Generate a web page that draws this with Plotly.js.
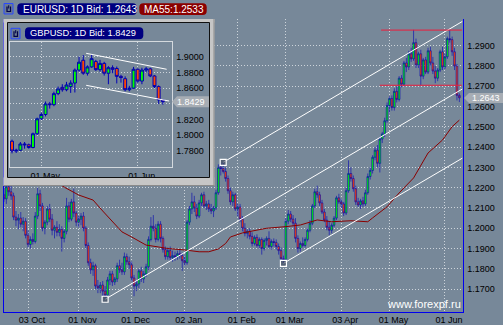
<!DOCTYPE html>
<html><head><meta charset="utf-8">
<script src="https://cdn.plot.ly/plotly-3.0.1.min.js"></script>
<style>html,body{margin:0;padding:0;background:#778899;overflow:hidden}</style>
</head><body><div id="chart" style="width:503px;height:325px"></div>
<script>
// ---------------- DATA ----------------
// EURUSD daily bars, index 0 = first visible bar
const eurOpen = [1.2165,1.2145,1.2205,1.2180,1.2160,1.2055,1.2040,1.2050,1.2020,1.2035,
1.1965,1.1920,1.1945,1.1935,1.2060,1.2170,1.2110,1.2000,1.2030,1.2095,
1.2045,1.1990,1.2005,1.1980,1.1995,1.1950,1.1985,1.2110,1.2045,1.2130,
1.2075,1.2030,1.2045,1.2060,1.2000,1.1915,1.1830,1.1795,1.1815,1.1715,
1.1705,1.1720,1.1690,1.1670,1.1745,1.1775,1.1735,1.1750,1.1815,1.1795,
1.1785,1.1860,1.1835,1.1820,1.1755,1.1715,1.1725,1.1790,1.1750,1.1775,
1.1810,1.1945,1.2010,1.2000,1.1945,1.2020,1.1950,1.1895,1.1860,1.1890,
1.1855,1.1865,1.1860,1.1875,1.1865,1.1840,1.1830,1.2030,1.2095,1.2130,
1.2100,1.2060,1.2125,1.2165,1.2110,1.2120,1.2095,1.2085,1.2100,1.2175,
1.2300,1.2295,1.2280,1.2245,1.2185,1.2130,1.2165,1.2095,1.2105,1.2045,
1.2000,1.1975,1.1985,1.1960,1.1925,1.1955,1.1915,1.1945,1.1900,1.1940,
1.1950,1.1910,1.1935,1.1930,1.1910,1.1890,1.1850,1.1845,1.2035,1.2070,
1.2045,1.2025,1.1950,1.1900,1.1925,1.1915,1.1945,1.1990,1.2025,1.2110,
1.2180,1.2165,1.2125,1.2080,1.2040,1.2005,1.1990,1.2015,1.2050,1.2150,
1.2130,1.2120,1.2075,1.2185,1.2270,1.2245,1.2195,1.2130,1.2115,1.2135,
1.2120,1.2175,1.2255,1.2285,1.2350,1.2385,1.2320,1.2440,1.2465,1.2530,
1.2605,1.2640,1.2595,1.2675,1.2635,1.2740,1.2710,1.2815,1.2795,1.2860,
1.2835,1.2915,1.2805,1.2860,1.2750,1.2830,1.2770,1.2875,1.2815,1.2775,
1.2740,1.2780,1.2870,1.2795,1.2845,1.2935,1.2930,1.2870,1.2800,1.2655];
const eurHigh = [1.2215,1.2240,1.2245,1.2235,1.2175,1.2085,1.2070,1.2080,1.2055,1.2050,
1.1990,1.1960,1.1975,1.2080,1.2200,1.2190,1.2125,1.2040,1.2110,1.2120,
1.2070,1.2015,1.2035,1.2020,1.2010,1.1995,1.2150,1.2130,1.2145,1.2195,
1.2085,1.2060,1.2075,1.2080,1.2010,1.1930,1.1850,1.1835,1.1825,1.1745,
1.1735,1.1740,1.1715,1.1760,1.1790,1.1790,1.1760,1.1830,1.1845,1.1830,
1.1880,1.1875,1.1860,1.1835,1.1770,1.1740,1.1800,1.1810,1.1790,1.1825,
1.1960,1.2055,1.2065,1.2020,1.2035,1.2035,1.1960,1.1910,1.1905,1.1910,
1.1890,1.1885,1.1890,1.1895,1.1880,1.1860,1.2040,1.2110,1.2175,1.2160,
1.2120,1.2140,1.2175,1.2180,1.2135,1.2140,1.2120,1.2110,1.2190,1.2315,
1.2325,1.2325,1.2300,1.2260,1.2200,1.2180,1.2175,1.2120,1.2120,1.2060,
1.2025,1.1995,1.2000,1.1980,1.1965,1.1970,1.1955,1.1955,1.1950,1.1960,
1.1985,1.1945,1.1950,1.1945,1.1925,1.1905,1.1865,1.2050,1.2090,1.2085,
1.2065,1.2050,1.1965,1.1935,1.1955,1.1955,1.2000,1.2040,1.2120,1.2195,
1.2210,1.2180,1.2140,1.2095,1.2060,1.2035,1.2025,1.2060,1.2160,1.2170,
1.2145,1.2130,1.2200,1.2335,1.2300,1.2260,1.2210,1.2150,1.2145,1.2155,
1.2190,1.2270,1.2300,1.2360,1.2400,1.2410,1.2450,1.2475,1.2545,1.2620,
1.2650,1.2655,1.2690,1.2700,1.2750,1.2755,1.2825,1.2840,1.2875,1.2890,
1.2978,1.2935,1.2870,1.2880,1.2840,1.2845,1.2890,1.2895,1.2845,1.2800,
1.2790,1.2880,1.2895,1.2860,1.2945,1.2978,1.2945,1.2890,1.2810,1.2665];
const eurLow = [1.2130,1.2120,1.2160,1.2140,1.2040,1.2010,1.1995,1.2005,1.1985,1.1950,
1.1905,1.1900,1.1920,1.1925,1.2045,1.2085,1.1985,1.1970,1.2015,1.2030,
1.1965,1.1950,1.1960,1.1960,1.1885,1.1930,1.1970,1.2030,1.2035,1.2055,
1.2010,1.2005,1.2015,1.1985,1.1900,1.1815,1.1775,1.1765,1.1700,1.1680,
1.1680,1.1665,1.1650,1.1660,1.1720,1.1715,1.1720,1.1735,1.1780,1.1770,
1.1770,1.1820,1.1800,1.1740,1.1665,1.1690,1.1705,1.1735,1.1730,1.1760,
1.1795,1.1935,1.1985,1.1930,1.1935,1.1930,1.1880,1.1845,1.1845,1.1840,
1.1835,1.1840,1.1845,1.1850,1.1790,1.1815,1.1820,1.2015,1.2070,1.2080,
1.2045,1.2050,1.2110,1.2100,1.2090,1.2080,1.2070,1.2055,1.2090,1.2165,
1.2260,1.2270,1.2230,1.2170,1.2115,1.2110,1.2085,1.2060,1.2030,1.1985,
1.1960,1.1950,1.1945,1.1910,1.1915,1.1905,1.1900,1.1870,1.1890,1.1915,
1.1900,1.1895,1.1910,1.1895,1.1870,1.1835,1.1827,1.1840,1.2020,1.2030,
1.2010,1.1930,1.1880,1.1885,1.1905,1.1905,1.1935,1.1980,1.2015,1.2100,
1.2150,1.2110,1.2070,1.2030,1.1990,1.1965,1.1975,1.2005,1.2040,1.2120,
1.2100,1.2060,1.2065,1.2175,1.2230,1.2180,1.2115,1.2105,1.2095,1.2105,
1.2110,1.2165,1.2240,1.2270,1.2335,1.2300,1.2275,1.2420,1.2450,1.2520,
1.2570,1.2580,1.2580,1.2620,1.2625,1.2695,1.2700,1.2770,1.2780,1.2820,
1.2825,1.2790,1.2790,1.2705,1.2735,1.2760,1.2760,1.2800,1.2760,1.2715,
1.2725,1.2770,1.2780,1.2785,1.2835,1.2915,1.2850,1.2780,1.2630,1.2622];
const eurClose = [1.2145,1.2205,1.2180,1.2160,1.2055,1.2040,1.2050,1.2020,1.2035,1.1965,
1.1920,1.1945,1.1935,1.2060,1.2170,1.2110,1.2000,1.2030,1.2095,1.2045,
1.1990,1.2005,1.1980,1.1995,1.1950,1.1985,1.2110,1.2045,1.2130,1.2075,
1.2030,1.2045,1.2060,1.2000,1.1915,1.1830,1.1795,1.1815,1.1715,1.1705,
1.1720,1.1690,1.1670,1.1745,1.1775,1.1735,1.1750,1.1815,1.1795,1.1785,
1.1860,1.1835,1.1820,1.1755,1.1715,1.1725,1.1790,1.1750,1.1775,1.1810,
1.1945,1.2010,1.2000,1.1945,1.2020,1.1950,1.1895,1.1860,1.1890,1.1855,
1.1865,1.1860,1.1875,1.1865,1.1840,1.1830,1.2030,1.2095,1.2130,1.2100,
1.2060,1.2125,1.2165,1.2110,1.2120,1.2095,1.2085,1.2100,1.2175,1.2300,
1.2295,1.2280,1.2245,1.2185,1.2130,1.2165,1.2095,1.2105,1.2045,1.2000,
1.1975,1.1985,1.1960,1.1925,1.1955,1.1915,1.1945,1.1900,1.1940,1.1950,
1.1910,1.1935,1.1930,1.1910,1.1890,1.1850,1.1845,1.2035,1.2070,1.2045,
1.2025,1.1950,1.1900,1.1925,1.1915,1.1945,1.1990,1.2025,1.2110,1.2180,
1.2165,1.2125,1.2080,1.2040,1.2005,1.1990,1.2015,1.2050,1.2150,1.2130,
1.2120,1.2075,1.2185,1.2270,1.2245,1.2195,1.2130,1.2115,1.2135,1.2120,
1.2175,1.2255,1.2285,1.2350,1.2385,1.2320,1.2440,1.2465,1.2530,1.2605,
1.2640,1.2595,1.2675,1.2635,1.2740,1.2710,1.2815,1.2795,1.2860,1.2835,
1.2915,1.2805,1.2860,1.2750,1.2830,1.2770,1.2875,1.2815,1.2775,1.2740,
1.2780,1.2870,1.2795,1.2845,1.2935,1.2930,1.2870,1.2800,1.2655,1.2643];

// MA55 line (bar index, value)
const maIdx = [23,25,31,37,41,45,49,53,56,59,64,68,75,81,85,89,92,94,99,102,109,117,123,130,136,144,151,153,159,164,170,176,182,186,189];
const maVal = [1.2218,1.2203,1.2164,1.2139,1.2085,1.2031,1.1982,1.1957,1.1937,1.1917,1.1908,1.1900,1.1893,1.1884,1.1884,1.1898,1.1925,1.1957,1.1977,1.1983,1.2000,1.2008,1.2016,1.2041,1.2032,1.2037,1.2032,1.2051,1.2106,1.2174,1.2248,1.2371,1.2435,1.2501,1.2533];

// trend channel lines (start bar/price -> end bar/price)
const trendX0 = [91, 42, 116];
const trendY0 = [1.2325, 1.1650, 1.1827];
const trendX1 = [190.3, 190.3, 190.3];
const trendY1 = [1.3020, 1.2687, 1.2346];
// horizontal red levels
const levelPrice = [1.2977, 1.2705];
const levelX0 = [156.5, 156];
const levelX1 = [190, 190];

// axis labels
const dateIdx = [10,31,53,75,97,117,140,160,183];
const dateLbl = ['03 Oct','01 Nov','01 Dec','02 Jan','01 Feb','01 Mar','03 Apr','01 May','01 Jun'];
const priceTicks = [1.17,1.18,1.19,1.20,1.21,1.22,1.23,1.24,1.25,1.26,1.27,1.28,1.29];

// GBPUSD inset
const gbpOpen = [1.7925,1.7800,1.7810,1.7890,1.7880,1.7845,1.8020,1.8210,1.8265,1.8400,
1.8390,1.8530,1.8610,1.8580,1.8620,1.8665,1.8830,1.8955,1.8790,1.8870,
1.8940,1.8835,1.8915,1.8790,1.8860,1.8850,1.8750,1.8720,1.8580,1.8600,
1.8840,1.8690,1.8830,1.8845,1.8755,1.8620,1.8450];
const gbpHigh = [1.7945,1.7830,1.7915,1.7915,1.7895,1.8035,1.8225,1.8290,1.8430,1.8425,
1.8555,1.8620,1.8650,1.8680,1.8700,1.8850,1.9000,1.9020,1.8890,1.9030,
1.8960,1.8960,1.8935,1.8880,1.8890,1.8875,1.8770,1.8750,1.8630,1.8870,
1.8850,1.8860,1.8870,1.8860,1.8765,1.8635,1.8460];
const gbpLow = [1.7770,1.7775,1.7800,1.7830,1.7830,1.7835,1.8005,1.8195,1.8240,1.8340,
1.8370,1.8510,1.8555,1.8560,1.8540,1.8545,1.8810,1.8770,1.8760,1.8860,
1.8820,1.8810,1.8760,1.8650,1.8790,1.8660,1.8670,1.8560,1.8560,1.8590,
1.8670,1.8650,1.8800,1.8740,1.8600,1.8400,1.8390];
const gbpClose = [1.7800,1.7810,1.7890,1.7880,1.7845,1.8020,1.8210,1.8265,1.8400,1.8390,
1.8530,1.8590,1.8580,1.8640,1.8665,1.8830,1.8930,1.8790,1.8870,1.8975,
1.8835,1.8915,1.8790,1.8860,1.8840,1.8750,1.8735,1.8580,1.8600,1.8840,
1.8690,1.8830,1.8845,1.8755,1.8620,1.8450,1.8429];
const gbpTrendX0 = [17.7, 17.7];
const gbpTrendY0 = [1.9043, 1.8636];
const gbpTrendX1 = [36.9, 37.5];
const gbpTrendY1 = [1.8840, 1.8436];
const gbpDateIdx = [7, 30];
const gbpDateLbl = ['01 May', '01 Jun'];
const gbpTicks = [1.78,1.80,1.82,1.84,1.86,1.88,1.90];
const gbpHiddenTick = 1.84; // label covered by the last-price tag

const mainTitle = 'EURUSD: 1D Bid: 1.2643';
const maTitle = 'MA55:1.2533';
const insetTitle = 'GBPUSD: 1D Bid: 1.8429';
const mainLast = '1.2643';
const insetLast = '1.8429';
const watermark = 'www.forexpf.ru';

// ---------------- STYLE / LAYOUT ----------------
const W = 503, H = 325;
const px = x => x / W, py = y => 1 - y / H;
const slate = '#778899';
const gridCol = '#cdd4db';
const FF = '"Liberation Sans", Arial, sans-serif';
const candleLine = '#0000b4';
const upFill = '#00ff00', dnFill = '#ff4500';

function idx(n){ const a=[]; for(let i=0;i<n;i++) a.push(i); return a; }

const traces = [];
traces.push({
  type:'candlestick', x: idx(eurClose.length), open:eurOpen, high:eurHigh, low:eurLow, close:eurClose,
  xaxis:'x', yaxis:'y', hoverinfo:'skip', showlegend:false, whiskerwidth:0,
  increasing:{line:{color:candleLine,width:0.6}, fillcolor:upFill},
  decreasing:{line:{color:candleLine,width:0.6}, fillcolor:dnFill}
});
traces.push({type:'scatter', mode:'lines', x:maIdx, y:maVal, xaxis:'x', yaxis:'y',
  line:{color:'#8b0000', width:1}, hoverinfo:'skip', showlegend:false});
for (let k=0;k<trendX0.length;k++){
  traces.push({type:'scatter', mode:'lines', x:[trendX0[k],trendX1[k]], y:[trendY0[k],trendY1[k]],
    xaxis:'x', yaxis:'y', line:{color:'#ffffff', width:1}, hoverinfo:'skip', showlegend:false});
}
for (let k=0;k<levelPrice.length;k++){
  traces.push({type:'scatter', mode:'lines', x:[levelX0[k],levelX1[k]], y:[levelPrice[k],levelPrice[k]],
    xaxis:'x', yaxis:'y', line:{color:'#ec1c3c', width:1}, hoverinfo:'skip', showlegend:false});
}
traces.push({type:'scatter', mode:'markers', x:trendX0, y:trendY0, xaxis:'x', yaxis:'y',
  marker:{symbol:'square', size:6, color:'rgba(60,70,90,0.6)', line:{color:'#ffffff', width:1.2}},
  hoverinfo:'skip', showlegend:false});

// inset background window (empty subplot so its background covers the main chart)
traces.push({type:'scatter', mode:'markers', x:[0.5], y:[0.5], xaxis:'x2', yaxis:'y2',
  marker:{opacity:0}, hoverinfo:'skip', showlegend:false});

// inset candles
traces.push({
  type:'candlestick', x: idx(gbpClose.length), open:gbpOpen, high:gbpHigh, low:gbpLow, close:gbpClose,
  xaxis:'x3', yaxis:'y3', hoverinfo:'skip', showlegend:false, whiskerwidth:0,
  increasing:{line:{color:candleLine,width:1}, fillcolor:upFill},
  decreasing:{line:{color:candleLine,width:1}, fillcolor:dnFill}
});
for (let k=0;k<gbpTrendX0.length;k++){
  traces.push({type:'scatter', mode:'lines', x:[gbpTrendX0[k],gbpTrendX1[k]], y:[gbpTrendY0[k],gbpTrendY1[k]],
    xaxis:'x3', yaxis:'y3', line:{color:'#ffffff', width:1}, hoverinfo:'skip', showlegend:false});
}

const tickFont = {family:FF, size:9, color:'#000000'};

function P(x,y){ return px(x).toFixed(5)+','+py(y).toFixed(5); }
function rr(x0,y0,x1,y1,r){
  return 'M'+P(x0+r,y0)+' L'+P(x1-r,y0)+' Q'+P(x1,y0)+' '+P(x1,y0+r)+' L'+P(x1,y1-r)+
    ' Q'+P(x1,y1)+' '+P(x1-r,y1)+' L'+P(x0+r,y1)+' Q'+P(x0,y1)+' '+P(x0,y1-r)+
    ' L'+P(x0,y0+r)+' Q'+P(x0,y0)+' '+P(x0+r,y0)+' Z';
}
function tag(x0,y0,x1,y1){
  const ym=(y0+y1)/2;
  return 'M'+P(x0,ym)+' L'+P(x0+5,y0)+' L'+P(x1,y0)+' L'+P(x1,y1)+' L'+P(x0+5,y1)+' Z';
}
function prect(x0,y0,x1,y1,fill,line,lw){
  return {type:'rect', xref:'paper', yref:'paper', x0:px(x0), x1:px(x1), y0:py(y1), y1:py(y0),
    fillcolor:fill||'rgba(0,0,0,0)', line:{color:line||'rgba(0,0,0,0)', width:lw||0}, layer:'above'};
}
function ppath(d,fill,line,lw){
  return {type:'path', xref:'paper', yref:'paper', path:d, fillcolor:fill||'rgba(0,0,0,0)',
    line:{color:line||'rgba(0,0,0,0)', width:lw||0}, layer:'above'};
}
function icon(x0,y0){
  return [
    prect(x0,y0,x0+9,y0+10.5,'#6a7a90','#2a48ff',1),
    ppath('M'+P(x0+3,y0+3)+' L'+P(x0+3,y0+8)+' L'+P(x0+6.5,y0+8)+' L'+P(x0+6.5,y0+3), null,'#00004a',1.2),
    ppath('M'+P(x0+4.7,y0+1.8)+' L'+P(x0+4.7,y0+5), null,'#00004a',1)
  ];
}

const frameCol = '#c6c6c6';
const shapes = [
  // inset frame bands
  prect(3.5,19,214.5,22.5,frameCol),
  prect(3.5,177.5,214.5,186,frameCol),
  prect(3.5,19,7.5,186,frameCol),
  prect(209.5,19,214.5,186,frameCol),
  prect(3.5,185,214.5,186,'#8a8a8a'),
  prect(213.5,19,214.5,186,'#8a8a8a'),
  prect(7.5,22.5,209.5,177.5,null,'#101010',1),
  // title pills
  ppath(rr(17.3,3.3,136.7,15,4),'#000080'),
  ppath(rr(139.3,3.3,206.7,15,4),'#8b0000'),
  ppath(rr(25,27.3,143.3,39.3,4),'#000080'),
  // last price tags
  ppath(tag(464,93,503,103),'#a7adb4'),
  ppath(tag(172,96.3,209,107.2),'#a7adb4')
].concat(icon(4,3.5)).concat(icon(11,28.3));

const annotations = [
  {text:mainTitle, x:px(21.5), y:py(9.3), xanchor:'left', yanchor:'middle'},
  {text:maTitle, x:px(143), y:py(9.3), xanchor:'left', yanchor:'middle'},
  {text:insetTitle, x:px(29), y:py(33.4), xanchor:'left', yanchor:'middle', font:{family:FF,size:9.3,color:'#ffffff'}},
  {text:mainLast, x:px(470.5), y:py(98.2), xanchor:'left', yanchor:'middle', font:{family:FF,size:9,color:'#ffffff'}},
  {text:insetLast, x:px(175.5), y:py(101.8), xanchor:'left', yanchor:'middle', font:{family:FF,size:9,color:'#ffffff'}},
  {text:watermark, x:px(462), y:py(303.5), xanchor:'right', yanchor:'middle', font:{family:FF,size:11,color:'#ffffff'}}
].map(a => Object.assign({xref:'paper', yref:'paper', showarrow:false, borderpad:0,
  font:{family:FF, size:10, color:'#ffffff'}}, a));

const layout = {
  width:W, height:H, margin:{l:0,r:0,t:0,b:0},
  paper_bgcolor:slate, plot_bgcolor:slate, showlegend:false, boxgap:0,
  xaxis:{domain:[px(3.5),px(462.5)], range:[-0.17,190.3], anchor:'y',
    tickmode:'array', tickvals:dateIdx, ticktext:dateLbl, ticklabelshift:4,
    showgrid:true, gridcolor:gridCol, griddash:'1px,2px', gridwidth:1, zeroline:false,
    showline:true, linecolor:'#0000ee', linewidth:1, ticks:'', tickfont:tickFont,
    rangeslider:{visible:false}, fixedrange:true},
  yaxis:{domain:[py(311.5),py(19)], range:[1.15896,1.30316], anchor:'x', side:'right',
    tickmode:'array', tickvals:priceTicks, ticktext:priceTicks.map(v=>v.toFixed(4)),
    ticklabelstandoff:2,
    showgrid:true, gridcolor:gridCol, griddash:'1px,2px', gridwidth:1, zeroline:false,
    showline:true, mirror:true, linecolor:'#0000ee', linewidth:1, ticks:'', tickfont:tickFont, fixedrange:true},
  xaxis2:{domain:[px(7.5),px(209.5)], range:[0,1], anchor:'y2', showgrid:false, zeroline:false,
    showticklabels:false, ticks:'', showline:false, fixedrange:true},
  yaxis2:{domain:[py(177.5),py(22.5)], range:[0,1], anchor:'x2', showgrid:false, zeroline:false,
    showticklabels:false, ticks:'', showline:false, fixedrange:true},
  xaxis3:{domain:[px(9.5),px(171.5)], range:[-0.6,38.06], anchor:'y3',
    tickmode:'array', tickvals:gbpDateIdx, ticktext:gbpDateLbl, ticklabelshift:4,
    showgrid:true, gridcolor:gridCol, griddash:'1px,2px', gridwidth:1, zeroline:false,
    showline:true, mirror:true, linecolor:'#d4d9de', linewidth:1, ticks:'', tickfont:tickFont,
    rangeslider:{visible:false}, fixedrange:true},
  yaxis3:{domain:[py(167),py(42)], range:[1.7597,1.9187], anchor:'x3', side:'right',
    tickmode:'array', tickvals:gbpTicks,
    ticktext:gbpTicks.map(v => Math.abs(v-gbpHiddenTick)<1e-9 ? '' : v.toFixed(4)),
    ticklabelstandoff:2,
    showgrid:true, gridcolor:gridCol, griddash:'1px,2px', gridwidth:1, zeroline:false,
    showline:true, mirror:true, linecolor:'#d4d9de', linewidth:1, ticks:'', tickfont:tickFont, fixedrange:true},
  shapes:shapes, annotations:annotations
};

Plotly.newPlot('chart', traces, layout, {staticPlot:true, displayModeBar:false});
</script></body></html>
